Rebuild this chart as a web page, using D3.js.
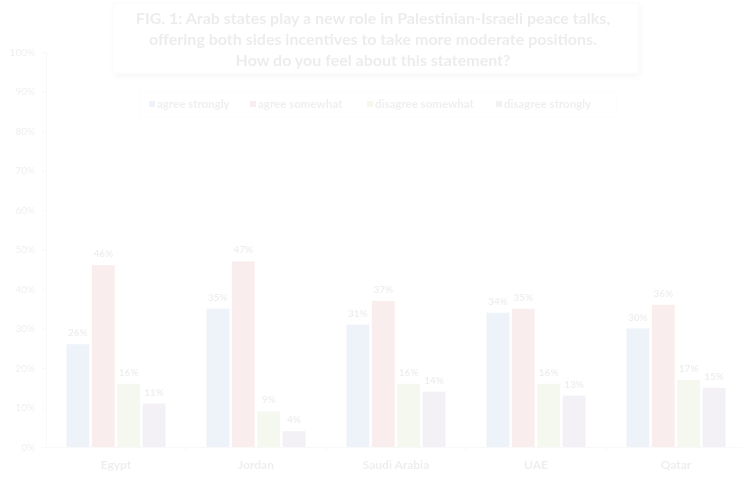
<!DOCTYPE html>
<html>
<head>
<meta charset="utf-8">
<script src="https://cdn.jsdelivr.net/npm/d3@7"></script>
<style>
  html, body { margin: 0; padding: 0; background: #fff; }
  svg { display: block; }
</style>
</head>
<body>
<div id="chart"></div>
<script>
// ── Data ───────────────────────────────────────────────────────────────────
const countries = ["Egypt", "Jordan", "Saudi Arabia", "UAE", "Qatar"];
const seriesNames = ["agree strongly", "agree somewhat", "disagree somewhat", "disagree strongly"];
const agreeStrongly    = [26, 35, 31, 34, 30];
const agreeSomewhat    = [46, 47, 37, 35, 36];
const disagreeSomewhat = [16, 9, 16, 16, 17];
const disagreeStrongly = [11, 4, 14, 13, 15];
const yTicks = [0, 10, 20, 30, 40, 50, 60, 70, 80, 90, 100];
const titleLines = [
  "FIG. 1: Arab states play a new role in Palestinian-Israeli peace talks,",
  "offering both sides incentives to take more moderate positions.",
  "How do you feel about this statement?"
];

const series = [agreeStrongly, agreeSomewhat, disagreeSomewhat, disagreeStrongly];
const COLORS = ["#4f81bd", "#c0504d", "#9bbb59", "#8064a2"];

// ── Layout ────────────────────────────────────────────────────────────────
const W = 743, H = 477;
const M = { left: 46, top: 52, bottom: 30 };
const FONT = "Lato, 'Open Sans', sans-serif";

const svg = d3.select("#chart").append("svg")
  .attr("width", W).attr("height", H);

const defs = svg.append("defs");
defs.append("filter").attr("id", "soft")
  .append("feGaussianBlur").attr("stdDeviation", 0.45);
const sh = defs.append("filter").attr("id", "shadow")
  .attr("x", "-10%").attr("y", "-30%").attr("width", "120%").attr("height", "160%");
sh.append("feDropShadow").attr("dx", 2).attr("dy", 3).attr("stdDeviation", 3)
  .attr("flood-color", "#000").attr("flood-opacity", 0.35);

// whole chart is heavily washed out in the reference
const root = svg.append("g").attr("opacity", 0.1).attr("filter", "url(#soft)");

// plot is wider than the window: last band runs off the right edge
const x0 = d3.scaleBand().domain(countries).range([M.left, M.left + 140 * countries.length]);
const x1 = d3.scaleBand().domain(d3.range(series.length))
  .range([20.5, 119.5]).paddingInner(0.1);
const y = d3.scaleLinear().domain([0, 100]).range([H - M.bottom, M.top]);

// Title box
root.append("rect").attr("x", 113).attr("y", 3).attr("width", 525).attr("height", 70)
  .attr("fill", "#fff").attr("stroke", "#d9d9d9").attr("filter", "url(#shadow)");
root.append("g").selectAll("text").data(titleLines).join("text")
  .attr("x", 373).attr("y", (d, i) => 24 + i * 21)
  .attr("text-anchor", "middle")
  .attr("font-family", FONT).attr("font-weight", "bold").attr("font-size", "16px")
  .attr("fill", "#404040").text((d) => d);

// Legend
const legX = [149, 250, 367, 496];
const legG = root.append("g");
legG.append("rect").attr("x", 140).attr("y", 92).attr("width", 476).attr("height", 25)
  .attr("fill", "#fff").attr("stroke", "#e6e6e6");
seriesNames.forEach((name, i) => {
  legG.append("rect").attr("x", legX[i]).attr("y", 101).attr("width", 6).attr("height", 6)
    .attr("fill", COLORS[i]);
  legG.append("text").attr("x", legX[i] + 8).attr("y", 108)
    .attr("font-family", FONT).attr("font-weight", "bold").attr("font-size", "11.5px")
    .attr("fill", "#595959").text(name);
});

// Y axis
const yAxis = root.append("g").attr("transform", `translate(${M.left},0)`)
  .call(d3.axisLeft(y).tickValues(yTicks).tickFormat((d) => d + "%").tickSize(4).tickPadding(7));
yAxis.select(".domain").attr("stroke", "#bfbfbf");
yAxis.selectAll(".tick line").attr("stroke", "#bfbfbf");
yAxis.selectAll("text").attr("font-family", FONT).attr("font-size", "10px").attr("fill", "#595959");

// X axis
const xAxis = root.append("g").attr("transform", `translate(0,${y(0)})`)
  .call(d3.axisBottom(x0).tickSize(0).tickPadding(13));
xAxis.select(".domain").attr("stroke", "#bfbfbf");
xAxis.selectAll("text").attr("font-family", FONT).attr("font-weight", "bold")
  .attr("font-size", "12px").attr("fill", "#595959");
xAxis.selectAll(".sep").data(countries.slice(1)).join("line")
  .attr("x1", (c) => x0(c)).attr("x2", (c) => x0(c))
  .attr("y1", 0).attr("y2", 4).attr("stroke", "#bfbfbf");

// Bars
const barG = root.append("g");
countries.forEach((c, ci) => {
  series.forEach((vals, si) => {
    const bx = x0(c) + x1(si);
    const v = vals[ci];
    barG.append("rect")
      .attr("x", bx).attr("y", y(v))
      .attr("width", x1.bandwidth()).attr("height", y(0) - y(v))
      .attr("fill", COLORS[si]);
    barG.append("text")
      .attr("x", bx + x1.bandwidth() / 2).attr("y", y(v) - 8)
      .attr("text-anchor", "middle")
      .attr("font-family", FONT).attr("font-weight", "bold").attr("font-size", "10px")
      .attr("fill", "#595959").text(v + "%");
  });
});
</script>
</body>
</html>
